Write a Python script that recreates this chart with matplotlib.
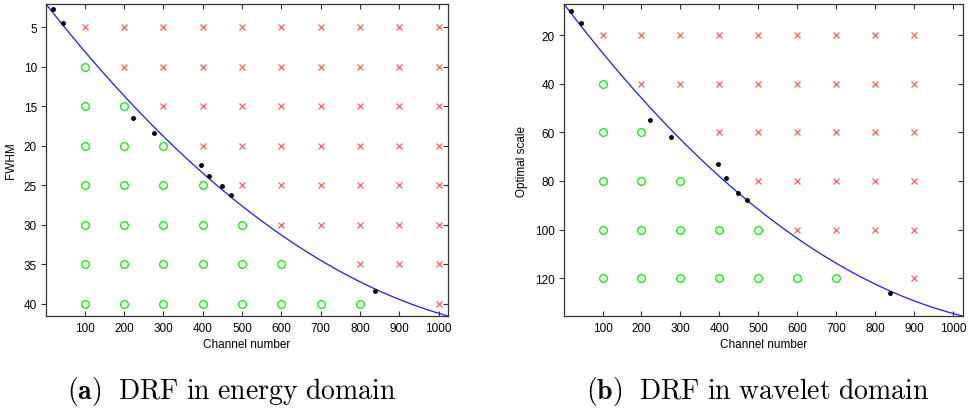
import numpy as np
import matplotlib
matplotlib.use('Agg')
from matplotlib import pyplot as plt

plt.rcParams['font.family'] = ['Liberation Sans', 'DejaVu Sans']
plt.rcParams['mathtext.fontset'] = 'cm'

# measured optimum per channel (black dots)
channels = [20, 45, 223, 275, 396, 417, 448, 472, 837]
fwhm = [2.75, 4.45, 16.55, 18.45, 22.4, 23.8, 25.15, 26.3, 38.4]
scale = [9.9, 14.9, 55.1, 62.0, 73.0, 78.8, 84.8, 88.0, 126.0]

# test grid: green = resolved, red = not resolved
energy_x = [100, 200, 300, 400, 500, 600, 700, 800, 900, 1000]
energy_rows = [5, 10, 15, 20, 25, 30, 35, 40]
energy_last_ok = [0, 100, 200, 300, 400, 500, 600, 800]
energy_gaps = [(700, 35), (900, 40)]

wavelet_x = [100, 200, 300, 400, 500, 600, 700, 800, 900]
wavelet_rows = [20, 40, 60, 80, 100, 120]
wavelet_last_ok = [0, 100, 200, 300, 500, 700]
wavelet_gaps = [(300, 60), (400, 80), (800, 120)]

n_channels = 1024


def split_grid(xs, rows, last_ok, gaps):
    ok, bad = [], []
    for row, lim in zip(rows, last_ok):
        for x in xs:
            if (x, row) in gaps:
                continue
            (ok if x <= lim else bad).append((x, row))
    return np.array(ok), np.array(bad)


def drf_panel(ax, xs, rows, last_ok, gaps, meas, ylabel, yticks):
    ok, bad = split_grid(xs, rows, last_ok, gaps)
    ch = np.arange(1, n_channels + 1)
    fit = np.polyval(np.polyfit(channels, meas, 2), ch)

    ax.plot(ok[:, 0], ok[:, 1], 'o', mfc='none', mec='#00ee00', ms=5.5, mew=0.9)
    ax.plot(bad[:, 0], bad[:, 1], 'x', color='#ff6060', ms=4, mew=0.9)
    ax.plot(ch, fit, '-', color='#1a1aff', lw=0.9)
    ax.plot(channels, meas, 'k.', ms=5)

    ax.set_xlim(1, n_channels)
    ax.set_ylim(fit[-1], fit[0])
    ax.set_xticks(energy_x)
    ax.set_yticks(yticks)
    ax.tick_params(axis='x', direction='in', top=True, length=3.5, width=0.8,
                   pad=4, labelsize=8.5, color='#333333')
    ax.tick_params(axis='y', direction='out', right=False, length=3.5, width=0.8,
                   pad=3, labelsize=8.5, color='#333333')
    # MATLAB-style inner ticks on the right edge
    right = ax.secondary_yaxis('right')
    right.set_yticks(yticks)
    right.tick_params(direction='in', length=3.5, width=0.8, labelright=False,
                      color='#333333')
    right.spines['right'].set_visible(False)
    for s in ax.spines.values():
        s.set_color('#333333')
        s.set_linewidth(0.9)
    ax.set_xlabel('Channel number', fontsize=8.5, labelpad=3)
    ax.set_ylabel(ylabel, fontsize=8.5, labelpad=5)


fig = plt.figure(figsize=(9.68, 4.10), dpi=100)
ax1 = fig.add_axes([0.0475, 0.2268, 0.4153, 0.761])
ax2 = fig.add_axes([0.5826, 0.2268, 0.4118, 0.761])

drf_panel(ax1, energy_x, energy_rows, energy_last_ok, energy_gaps, fwhm,
          'FWHM', energy_rows)
drf_panel(ax2, wavelet_x, wavelet_rows, wavelet_last_ok, wavelet_gaps, scale,
          'Optimal scale', wavelet_rows)

fig.text(0.239, 0.027, r'$\mathbf{(a)}\ \ \mathrm{DRF\ in\ energy\ domain}$',
         ha='center', va='baseline', fontsize=20)
fig.text(0.7825, 0.027, r'$\mathbf{(b)}\ \ \mathrm{DRF\ in\ wavelet\ domain}$',
         ha='center', va='baseline', fontsize=20)

fig.savefig('out.png', dpi=100)
